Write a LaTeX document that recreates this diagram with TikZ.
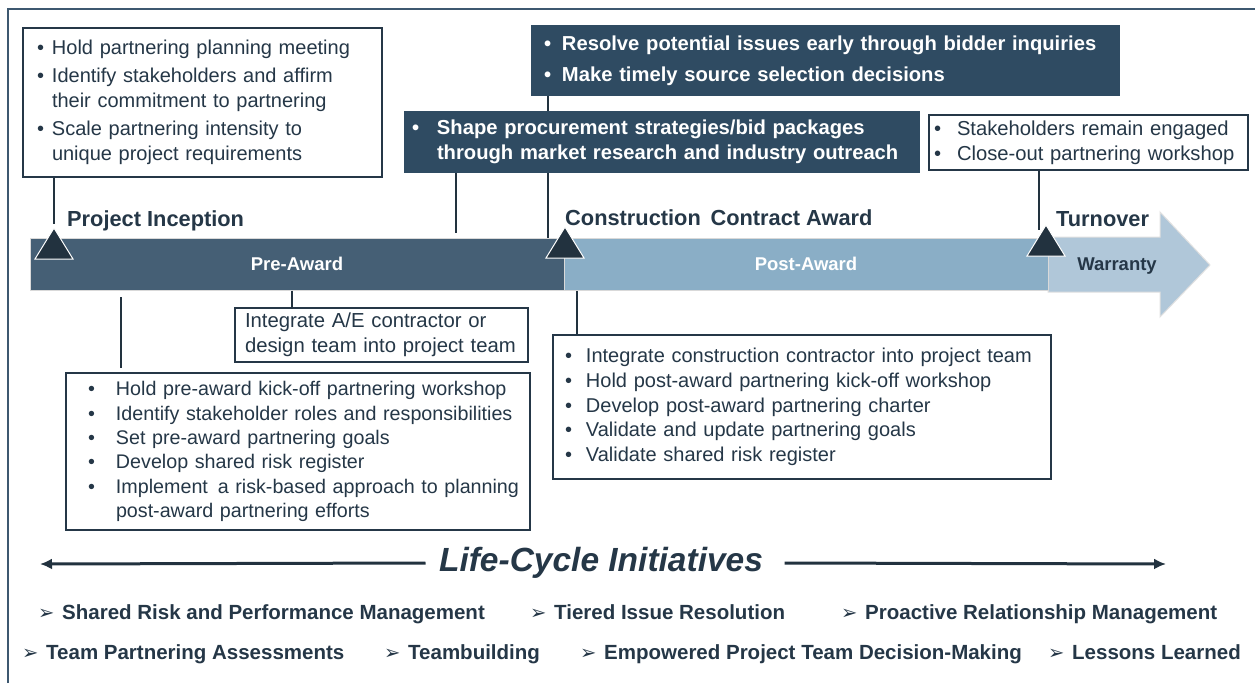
\documentclass[tikz,border=0pt]{standalone}
\usepackage{fontspec}
\setmainfont{Liberation Sans}
\newfontfamily\dejavu{DejaVu Sans}
\usetikzlibrary{arrows.meta}
\definecolor{txt}{HTML}{253747}
\definecolor{frame}{HTML}{3D5870}
\definecolor{darkbox}{HTML}{2F4B62}
\definecolor{preaw}{HTML}{455F75}
\definecolor{postaw}{HTML}{8AAEC6}
\definecolor{warr}{HTML}{B0C7D9}
\definecolor{tri}{HTML}{22323F}
\definecolor{conn}{HTML}{22323F}
\newcommand\fs[2]{\fontsize{#1}{#2}\selectfont}
\newcommand\bl[1]{\makebox[#1][l]{•}}
\newcommand\arr{\makebox[24pt][l]{\dejavu\fs{19.5}{15}\raisebox{-0.5pt}{➢}}}
\begin{document}
\begin{tikzpicture}[x=1pt,y=-1pt,
  wbox/.style={draw=txt,line width=1.2pt,fill=white,text=txt,align=left,inner ysep=0pt},
  dbox/.style={fill=darkbox,text=white,align=left,inner ysep=0pt,font=\bfseries},
  conline/.style={draw=conn,line width=1.4pt},
  bar/.style={draw=black!15,line width=1pt,minimum height=52pt,inner sep=0pt,text=white,font=\bfseries\fs{18.5}{20}},
  mile/.style={fill=tri,draw=white,line width=1pt},
  mlabel/.style={text=txt,font=\bfseries\fs{21.8}{24},anchor=base west,inner sep=0pt},
  item/.style={text=txt,font=\bfseries\fs{20.5}{22},anchor=base west,inner sep=0pt}]
\useasboundingbox (0,0) rectangle (1255,683);
\fill[white] (0,0) rectangle (1255,683);
% frame
\draw[frame,line width=2pt] (8,683) -- (8,9) -- (1255,9);

% bars
\fill[warr,draw=black!12,line width=1pt] (1048,237) -- (1160,237) -- (1160,212) -- (1210,265) -- (1160,317) -- (1160,292) -- (1048,292) -- cycle;
\node[text=txt,font=\bfseries\fs{18.5}{20}] (warranty) at (1117,266) {Warranty};
\node[bar,fill=postaw,minimum width=484pt] (post) at (806,264) {Post-Award};
\node[bar,fill=preaw,minimum width=534pt] (pre) at (297,264) {Pre-Award};

% milestones
\coordinate (t1) at (54,228);
\coordinate (t2) at (565,227);
\coordinate (t3) at (1046,225);
\foreach \t in {t1,t2,t3}{
  \draw[mile] (\t) -- ++(-19,31) -- ++(38,0) -- cycle;
}
\node[mlabel] (lab1) at (67,226) {Project Inception};
\node[mlabel] (lab2) at (565,225) {Construction\, Contract Award};
\node[mlabel] (lab3) at (1056,226) {Turnover};

% top boxes
\node[wbox,text width=331pt,inner xsep=14pt,minimum height=149pt,font=\fs{20}{25}] (b1) at (202.5,102.5)
{\bl{15pt}Hold partnering planning meeting\\[3pt]
\bl{15pt}Identify stakeholders and affirm\\
\hspace*{15pt}their commitment to partnering\\[3pt]
\bl{15pt}Scale partnering intensity to\\
\hspace*{15pt}unique project requirements};

\node[dbox,text width=563pt,inner xsep=13pt,minimum height=71pt,font=\bfseries\fs{20.2}{31}] (ba) at (825.5,60.5)
{\bl{18pt}Resolve potential issues early through bidder inquiries\\
\bl{18pt}Make timely source selection decisions};

\coordinate (ca) at (548,96);
\coordinate (ca2) at (548,238);
\draw[conline] (ca) -- (ca2);

\node[dbox,text width=500pt,inner xsep=8pt,minimum height=62pt,font=\bfseries\fs{20.2}{25}] (bb) at (662,142)
{\bl{25pt}Shape procurement strategies/bid packages\\
\hspace*{25pt}through market research and industry outreach};

\node[wbox,text width=309pt,inner xsep=5pt,minimum height=55pt,font=\fs{20.2}{25}] (bs) at (1088.5,142.5)
{\bl{23pt}Stakeholders remain engaged\\
\bl{23pt}Close-out partnering workshop};

% connectors top
\draw[conline] (b1.south -| t1) -- ([yshift=4pt]t1);
\draw[conline] (bb.south -| 456,0) -- (456,233);
\draw[conline] (bs.south -| 1039,0) -- (1039,230);

% lower boxes
\node[wbox,text width=281pt,inner xsep=6pt,minimum height=54pt,font=\fs{20.3}{25}] (ae) at (381.5,335)
{\hspace*{4pt}Integrate A/E contractor or\\
\hspace*{4pt}design team into project team};

\node[wbox,text width=444pt,inner xsep=10pt,minimum height=157pt,font=\fs{19.7}{24.4}] (bp) at (298,451.5)
{\hspace*{12pt}\bl{28pt}Hold pre-award kick-off partnering workshop\\
\hspace*{12pt}\bl{28pt}Identify stakeholder roles and responsibilities\\
\hspace*{12pt}\bl{28pt}Set pre-award partnering goals\\
\hspace*{12pt}\bl{28pt}Develop shared risk register\\
\hspace*{12pt}\bl{28pt}Implement\, a risk-based approach to planning\\
\hspace*{40pt}post-award partnering efforts};

\node[wbox,text width=488pt,inner xsep=5pt,minimum height=144pt,font=\fs{20}{24.7}] (bq) at (802,407)
{\hspace*{7pt}\bl{21pt}Integrate construction contractor into project team\\
\hspace*{7pt}\bl{21pt}Hold post-award partnering kick-off workshop\\
\hspace*{7pt}\bl{21pt}Develop post-award partnering charter\\
\hspace*{7pt}\bl{21pt}Validate and update partnering goals\\
\hspace*{7pt}\bl{21pt}Validate shared risk register};

\draw[conline] (pre.south -| ae.north) ++(-89.5,0) -- ++(0,18);
\coordinate (fl1) at (121,297);
\coordinate (fl2) at (121,368);
\draw[conline] (fl1) -- (fl2);
\draw[conline] (bq.north -| 577,0) -- (pre.south -| 577,0);

% life-cycle
\node[text=txt,font=\bfseries\itshape\fs{33.5}{36}] (lc) at (601,563) {Life-Cycle Initiatives};
\coordinate (la) at (40,564);
\coordinate (ra) at (1166,564);
\draw[conn,line width=3pt,-{Latex[length=12pt,width=11pt]}] (lc.west) ++(-10,0) -- (la);
\draw[conn,line width=3pt,-{Latex[length=12pt,width=11pt]}] (lc.east) ++(18,0) -- (ra);

\node[item] (i1) at (38,619) {\arr Shared Risk and Performance Management};
\node[item] (i2) at (530,619) {\arr Tiered Issue Resolution};
\node[item] (i3) at (841,619) {\arr Proactive Relationship Management};
\node[item] (i4) at (22,659) {\arr Team Partnering Assessments};
\node[item] (i5) at (384,659) {\arr Teambuilding};
\node[item] (i6) at (580,659) {\arr Empowered Project Team Decision-Making};
\node[item] (i7) at (1048,659) {\arr Lessons Learned};
\end{tikzpicture}
\end{document}
